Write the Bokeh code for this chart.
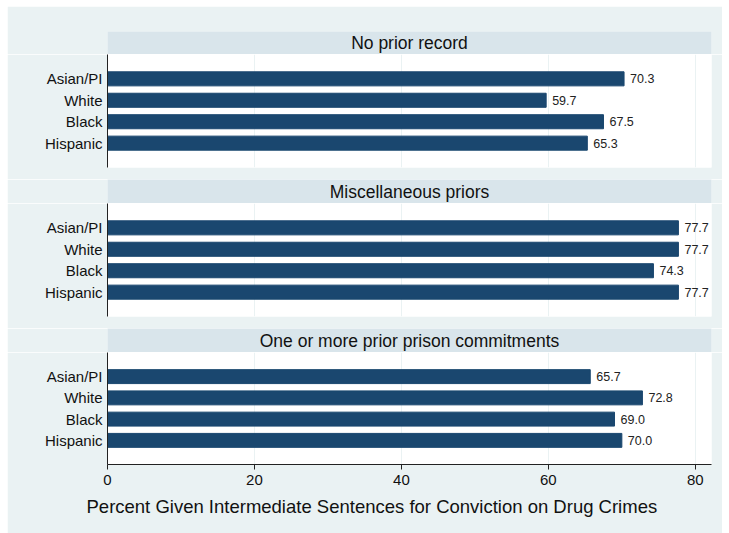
from bokeh.plotting import figure
from bokeh.models import Range1d, LinearAxis, FixedTicker, Grid, Label, Title, ColumnDataSource
from bokeh.layouts import column
from bokeh.core.properties import value
from bokeh.embed import file_html
from bokeh.resources import INLINE

# ---- data ----
groups = ["No prior record", "Miscellaneous priors", "One or more prior prison commitments"]
races = ["Asian/PI", "White", "Black", "Hispanic"]
no_prior = [70.3, 59.7, 67.5, 65.3]
misc_priors = [77.7, 77.7, 74.3, 77.7]
prison_priors = [65.7, 72.8, 69.0, 70.0]
series = [no_prior, misc_priors, prison_priors]
x_ticks = [0, 20, 40, 60, 80]
x_title = "Percent Given Intermediate Sentences for Conviction on Drug Crimes"

# ---- style ----
BG = "#EAF2F3"
STRIP = "#D9E5EB"
BAR = "#1A476F"
FONT = "Liberation Sans"
W = 715
LEFT = 100
RIGHT = 11


def header(title, h, top):
    p = figure(width=W, height=h, x_range=Range1d(0, 1), y_range=Range1d(0, 1),
               x_axis_type=None, y_axis_type=None, toolbar_location=None,
               output_backend="svg", min_border_left=LEFT, min_border_right=RIGHT,
               min_border_top=top, min_border_bottom=0)
    p.background_fill_color = STRIP
    p.border_fill_color = BG
    p.outline_line_color = None
    p.add_layout(Label(x=0.5, y=0.5, text=title, text_align="center",
                       text_baseline="middle", text_font=FONT,
                       text_font_size="17.5px", text_color="#111111"))
    return p


def panel(vals, h, bottom, with_xaxis):
    n = len(races)
    ypos = [n - i for i in range(n)]
    src = ColumnDataSource(dict(y=ypos, v=vals, lab=[f"{v:.1f}" for v in vals]))
    p = figure(width=W, height=h, x_range=Range1d(0, 82.2),
               y_range=Range1d(1 - 1.135, n + 1.135),
               x_axis_type=None, y_axis_type=None, toolbar_location=None,
               output_backend="svg", min_border_left=LEFT, min_border_right=RIGHT,
               min_border_top=0, min_border_bottom=bottom)
    p.background_fill_color = "white"
    p.border_fill_color = BG
    p.outline_line_color = None

    p.add_layout(Grid(dimension=0, ticker=FixedTicker(ticks=x_ticks),
                      grid_line_color=BG, grid_line_width=1))

    yaxis = LinearAxis(ticker=FixedTicker(ticks=ypos),
                       major_label_overrides={y: r for y, r in zip(ypos, races)},
                       major_tick_out=0, major_tick_in=0,
                       minor_tick_line_color=None,
                       axis_line_color="#222222",
                       major_label_text_font=FONT,
                       major_label_text_font_size="15px",
                       major_label_text_color="#111111",
                       major_label_standoff=5)
    p.add_layout(yaxis, "left")

    if with_xaxis:
        xaxis = LinearAxis(ticker=FixedTicker(ticks=x_ticks),
                           major_tick_out=5, major_tick_in=0,
                           minor_tick_line_color=None,
                           axis_line_color="#222222",
                           major_tick_line_color="#222222",
                           major_label_text_font=FONT,
                           major_label_text_font_size="15px",
                           major_label_text_color="#111111",
                           major_label_standoff=5)
        p.add_layout(xaxis, "below")
        # axis title, centred on the whole graph as in the original
        p.add_layout(Title(text=x_title, align="left", offset=-21, standoff=12,
                           text_font=FONT, text_font_size="18.5px",
                           text_font_style="normal", text_color="#111111"),
                     "below")

    p.hbar(y="y", right="v", left=0, height=0.656, source=src,
           fill_color=BAR, line_color=BAR)
    p.text(x="v", y="y", text="lab", x_offset=6, text_baseline="middle",
           text_align="left", text_font=value(FONT), text_font_size=value("12.5px"),
           text_color="#222222", source=src)
    return p


figs = [
    header(groups[0], 48, 25),
    panel(series[0], 125, 12, False),
    header(groups[1], 24, 0),
    panel(series[1], 125, 12, False),
    header(groups[2], 24, 0),
    panel(series[2], 181, 69, True),
]

layout = column(*figs, spacing=0, margin=(6, 0, 0, 7))
open("out.html", "w").write(file_html(layout, INLINE))
